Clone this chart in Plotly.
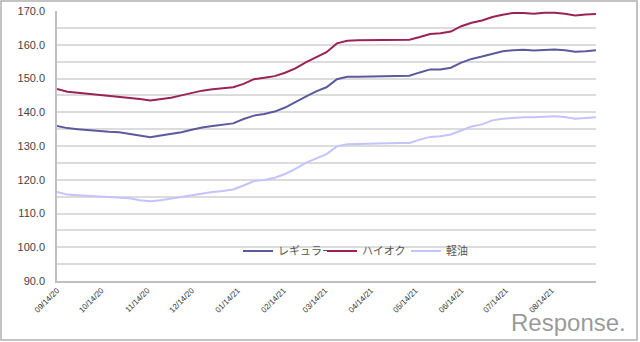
import pandas as pd
import plotly.graph_objects as go

# Weekly survey dates (Mondays)
dates = pd.date_range("2020-09-14", periods=53, freq="7D")

regular = [135.9, 135.3, 135.0, 134.7, 134.3, 134.2, 134.1, 133.6, 133.1, 132.6,
           133.1, 133.5, 134.1, 134.8, 135.5, 135.9, 136.2, 136.7, 138.0, 139.0,
           139.5, 140.2, 141.4, 142.9, 144.6, 146.2, 147.4, 149.8, 150.5, 150.5,
           150.6, 150.7, 150.7, 150.7, 150.8, 151.8, 152.7, 152.7, 153.2, 154.7,
           155.8, 156.5, 157.4, 158.1, 158.4, 158.5, 158.3, 158.5, 158.6, 158.4,
           157.9, 158.1, 158.4]

high_octane = [146.9, 146.1, 145.8, 145.5, 145.1, 144.9, 144.7, 144.3, 143.9, 143.5,
               143.9, 144.3, 145.0, 145.7, 146.4, 146.8, 147.1, 147.4, 148.4, 149.8,
               150.2, 150.7, 151.7, 153.0, 154.8, 156.3, 157.8, 160.4, 161.2, 161.3,
               161.3, 161.3, 161.4, 161.4, 161.5, 162.3, 163.2, 163.4, 163.9, 165.5,
               166.5, 167.2, 168.2, 168.9, 169.4, 169.4, 169.2, 169.5, 169.5, 169.2,
               168.7, 169.0, 169.1]

diesel = [116.4, 115.6, 115.4, 115.2, 115.0, 114.9, 114.7, 114.5, 113.9, 113.6,
          113.9, 114.4, 114.9, 115.5, 116.1, 116.4, 116.7, 117.1, 118.3, 119.6,
          119.9, 120.6, 121.7, 123.2, 125.0, 126.3, 127.6, 129.9, 130.5, 130.6,
          130.6, 130.7, 130.8, 130.9, 130.9, 131.9, 132.7, 132.9, 133.4, 134.6,
          135.8, 136.4, 137.6, 138.1, 138.4, 138.5, 138.5, 138.6, 138.8, 138.6,
          138.1, 138.3, 138.5]

series_names = ["レギュラー", "ハイオク", "軽油"]
series_colors = ["#5a5a9c", "#9b2257", "#c3c3ff"]

# Monthly ticks on the 14th
tick_dates = list(pd.date_range("2020-09-01", periods=12, freq="MS") + pd.Timedelta(days=13))

fig = go.Figure()
for name, values, color in zip(series_names, [regular, high_octane, diesel], series_colors):
    fig.add_trace(go.Scatter(x=dates, y=values, mode="lines", name=name,
                             line=dict(color=color, width=2)))

W, H = 640, 342
ml, mr, mt, mb = 57, 44, 11, 61
pw, ph = W - ml - mr, H - mt - mb

def px_x(x):
    return (x - ml) / pw

def px_y(y):
    return (H - mb - y) / ph

fig.update_layout(
    width=W, height=H,
    autosize=False,
    margin=dict(l=ml, r=mr, t=mt, b=mb, autoexpand=False),
    paper_bgcolor="white", plot_bgcolor="white",
    font=dict(family="Liberation Sans, Arial, sans-serif", color="#333333"),
    showlegend=True,
    legend=dict(orientation="h", x=px_x(238), y=px_y(251), xanchor="left", yanchor="middle",
                bgcolor="rgba(0,0,0,0)", entrywidth=39, entrywidthmode="pixels",
                font=dict(family="Noto Sans CJK JP", size=11, color="#555555")),
    xaxis=dict(
        type="date",
        range=[dates[0], dates[-1]],
        tickvals=tick_dates,
        tickformat="%m/%d/%y",
        tickangle=-45,
        tickfont=dict(size=8, color="#333333"),
        showgrid=False,
        showline=True, linecolor="#c0c0c0", linewidth=1.5,
        zeroline=False,
        automargin=False,
    ),
    yaxis=dict(
        range=[90, 170],
        dtick=10, tick0=90,
        tickformat=".1f",
        tickfont=dict(size=11, color="#444444"),
        ticklabelstandoff=8,
        showgrid=True, gridcolor="#dcdcdc", gridwidth=1.5,
        minor=dict(dtick=5, showgrid=True, gridcolor="#dcdcdc", gridwidth=1.5),
        showline=True, linecolor="#c0c0c0", linewidth=1.5,
        zeroline=False,
        automargin=False,
    ),
    shapes=[dict(type="rect", xref="paper", yref="paper",
                 x0=px_x(1), x1=px_x(637), y0=px_y(340), y1=px_y(1),
                 line=dict(color="#b0b0b0", width=1.5), fillcolor="rgba(0,0,0,0)",
                 layer="below")],
    annotations=[dict(text="Response.", xref="paper", yref="paper",
                      x=px_x(628), y=px_y(322), xanchor="right", yanchor="middle",
                      showarrow=False,
                      font=dict(family="Liberation Sans, Arial, sans-serif", size=24,
                                color="rgba(120,120,120,0.75)"))],
)

fig.write_html("out.html", config={"responsive": False},
               post_script="document.body.style.margin='0';document.body.style.overflow='hidden';")
